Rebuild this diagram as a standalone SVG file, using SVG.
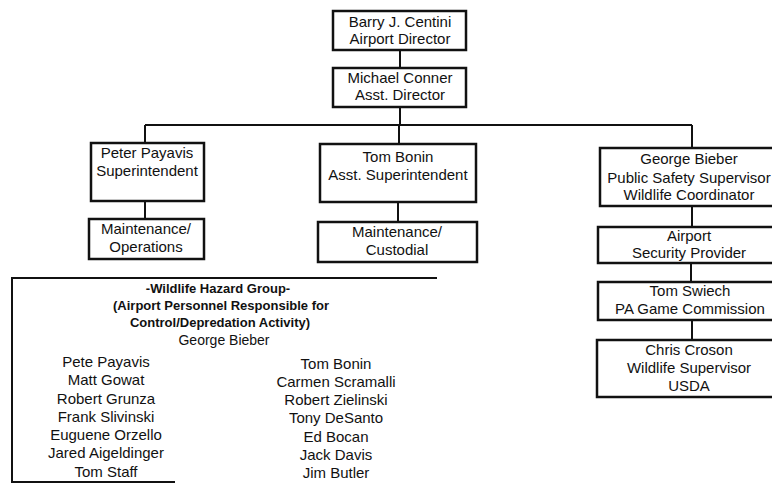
<svg xmlns="http://www.w3.org/2000/svg" width="772" height="484" viewBox="0 0 772 484">
<style>
.box{fill:#fff;stroke:#111;stroke-width:2.5}
.ln{fill:none;stroke:#111;stroke-width:2}
text{font-family:"Liberation Sans",Arial,sans-serif;font-size:15px;fill:#111;text-anchor:middle}
.hd{font-weight:bold;font-size:13px}
.sm{font-size:14px}
</style>
<rect width="772" height="484" fill="#fff"/>
<g id="connectors">
<path class="ln" d="M400,50V68M400,107V125M145,125H692M145,125V143M399,125V144M692,125V148M145,201V219M398,202V222M692,206V227M691,263V282M692,320V340"/>
</g>
<g id="barry"><rect class="box" x="333" y="11" width="133" height="39"/><text x="400" y="27">Barry J. Centini</text><text x="400" y="44">Airport Director</text></g>
<g id="michael"><rect class="box" x="333" y="68" width="133" height="39"/><text x="400" y="83">Michael Conner</text><text x="400" y="100">Asst. Director</text></g>
<g id="peter"><rect class="box" x="91" y="143" width="113" height="58"/><text x="147" y="158">Peter Payavis</text><text x="147" y="176">Superintendent</text></g>
<g id="bonin"><rect class="box" x="320" y="144" width="156" height="58"/><text x="398" y="162">Tom Bonin</text><text x="398" y="180">Asst. Superintendent</text></g>
<g id="maint-ops"><rect class="box" x="89" y="219" width="115" height="40"/><text x="146" y="234">Maintenance/</text><text x="146" y="252">Operations</text></g>
<g id="maint-cust"><rect class="box" x="318" y="222" width="159" height="40"/><text x="397" y="237">Maintenance/</text><text x="397" y="255">Custodial</text></g>
<g id="george"><rect class="box" x="600" y="148" width="185" height="58"/><text x="689" y="164">George Bieber</text><text x="689" y="183">Public Safety Supervisor</text><text x="689" y="200">Wildlife Coordinator</text></g>
<g id="airport"><rect class="box" x="598" y="227" width="187" height="36"/><text x="689" y="241">Airport</text><text x="689" y="258">Security Provider</text></g>
<g id="swiech"><rect class="box" x="598" y="282" width="187" height="38"/><text x="690" y="296">Tom Swiech</text><text x="690" y="314">PA Game Commission</text></g>
<g id="croson"><rect class="box" x="597" y="340" width="188" height="57"/><text x="689" y="355">Chris Croson</text><text x="689" y="373">Wildlife Supervisor</text><text x="689" y="391">USDA</text></g>
<g id="wildlife-group">
<path class="ln" d="M437,278H12V482H175"/>
<text class="hd" x="218" y="293">-Wildlife Hazard Group-</text>
<text class="hd" x="221" y="310">(Airport Personnel Responsible for</text>
<text class="hd" x="220" y="327">Control/Depredation Activity)</text>
<text class="sm" x="224" y="345">George Bieber</text>
<text x="106" y="367">Pete Payavis</text>
<text x="106" y="385">Matt Gowat</text>
<text x="106" y="404">Robert Grunza</text>
<text x="106" y="422">Frank Slivinski</text>
<text x="106" y="440">Euguene Orzello</text>
<text x="106" y="458">Jared Aigeldinger</text>
<text x="106" y="477">Tom Staff</text>
<text x="336" y="369">Tom Bonin</text>
<text x="336" y="387">Carmen Scramalli</text>
<text x="336" y="405">Robert Zielinski</text>
<text x="336" y="423">Tony DeSanto</text>
<text x="336" y="442">Ed Bocan</text>
<text x="336" y="460">Jack Davis</text>
<text x="336" y="478">Jim Butler</text>
</g>
</svg>
